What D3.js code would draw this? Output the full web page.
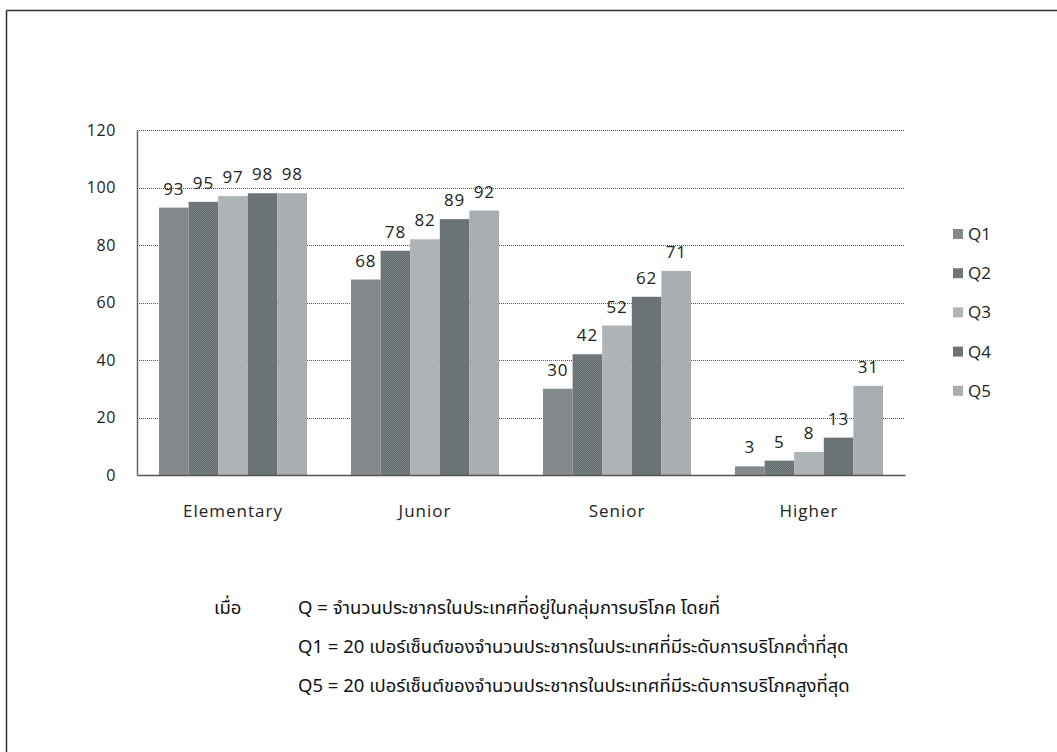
<!DOCTYPE html>
<html>
<head>
<meta charset="utf-8">
<script src="https://cdn.jsdelivr.net/npm/d3@7"></script>
<style>
  body { margin: 0; background: #fff; }
  svg { display: block; }
</style>
</head>
<body>
<svg id="chart" width="1057" height="752"></svg>
<script>
const categories = ["Elementary", "Junior", "Senior", "Higher"];
const seriesNames = ["Q1", "Q2", "Q3", "Q4", "Q5"];
const q1 = [93, 68, 30, 3];
const q2 = [95, 78, 42, 5];
const q3 = [97, 82, 52, 8];
const q4 = [98, 89, 62, 13];
const q5 = [98, 92, 71, 31];
const yTicks = [0, 20, 40, 60, 80, 100, 120];
const noteLines = [
  "Q = จำนวนประชากรในประเทศที่อยู่ในกลุ่มการบริโภค โดยที่",
  "Q1 = 20 เปอร์เซ็นต์ของจำนวนประชากรในประเทศที่มีระดับการบริโภคต่ำที่สุด",
  "Q5 = 20 เปอร์เซ็นต์ของจำนวนประชากรในประเทศที่มีระดับการบริโภคสูงที่สุด"
];
const noteLead = "เมื่อ";

const seriesValues = [q1, q2, q3, q4, q5];
const colorsA = ["#7a8185", "#656c70", "#a4abae", "#62696d", "#9ea5a8"];
const colorsB = ["#8b9195", "#7a8185", "#b8bec0", "#767d80", "#b0b6b9"];

const svg = d3.select("#chart");
const defs = svg.append("defs");
seriesNames.forEach((s, i) => {
  const p = defs.append("pattern").attr("id", "pat" + i)
    .attr("width", 2).attr("height", 2).attr("patternUnits", "userSpaceOnUse");
  p.append("rect").attr("width", 2).attr("height", 2).attr("fill", colorsB[i]);
  p.append("rect").attr("width", 1).attr("height", 1).attr("fill", colorsA[i]);
  p.append("rect").attr("x", 1).attr("y", 1).attr("width", 1).attr("height", 1).attr("fill", colorsA[i]);
});

// frame
svg.append("line").attr("x1", 6.5).attr("x2", 1057).attr("y1", 10.5).attr("y2", 10.5)
  .attr("stroke", "#2a3236").attr("stroke-width", 1.5);
svg.append("line").attr("x1", 6.5).attr("x2", 6.5).attr("y1", 10.5).attr("y2", 752)
  .attr("stroke", "#2a3236").attr("stroke-width", 1.5);

const plot = { left: 137, right: 905, top: 130, bottom: 475 };
const x0 = d3.scaleBand().domain(categories).range([plot.left, plot.right]).paddingInner(0.229).paddingOuter(0.1145);
const x1 = d3.scaleBand().domain(seriesNames).range([0, x0.bandwidth()]).padding(0);
const y = d3.scaleLinear().domain([0, 120]).range([plot.bottom, plot.top]);

const font = "'Open Sans', 'Noto Sans', sans-serif";

// gridlines
svg.append("g").selectAll("line").data(yTicks.filter(d => d > 0)).join("line")
  .attr("x1", plot.left).attr("x2", plot.right)
  .attr("y1", d => Math.round(y(d)) + 0.5).attr("y2", d => Math.round(y(d)) + 0.5)
  .attr("stroke", "#555").attr("stroke-width", 1).attr("stroke-dasharray", "1,1");

// y axis
const yAxis = d3.axisLeft(y).tickValues(yTicks).tickSize(0).tickPadding(21);
const gy = svg.append("g").attr("transform", `translate(${plot.left},0)`).call(yAxis);
gy.select(".domain").attr("stroke", "#666").attr("stroke-width", 1.5);
gy.selectAll("text").attr("font-family", font).attr("font-size", 16).attr("letter-spacing", 0.6).attr("fill", "#222");

// bars
const groups = svg.append("g").selectAll("g").data(categories).join("g")
  .attr("transform", d => `translate(${x0(d)},0)`);
const rowsFor = (c, ci) => seriesNames.map((s, si) => ({ s, si, v: seriesValues[si][ci] }));
groups.selectAll("rect").data(rowsFor)
  .join("rect")
  .attr("x", d => x1(d.s)).attr("width", x1.bandwidth())
  .attr("y", d => y(d.v)).attr("height", d => y(0) - y(d.v))
  .attr("fill", d => `url(#pat${d.si})`);
groups.selectAll("text").data(rowsFor)
  .join("text")
  .attr("x", d => x1(d.s) + x1.bandwidth() / 2).attr("y", d => y(d.v) - 13)
  .attr("text-anchor", "middle").attr("font-family", font).attr("font-size", 17).attr("letter-spacing", 0.8).attr("fill", "#222")
  .text(d => d.v);

// x axis
const xAxis = d3.axisBottom(x0).tickSize(0).tickPadding(30);
const gx = svg.append("g").attr("transform", `translate(0,${plot.bottom})`).call(xAxis);
gx.select(".domain").attr("stroke", "#555").attr("stroke-width", 1.5);
gx.selectAll("text").attr("font-family", font).attr("font-size", 17).attr("letter-spacing", 1).attr("fill", "#222");

// legend
const leg = svg.append("g").attr("transform", "translate(953,229)");
const li = leg.selectAll("g").data(seriesNames).join("g").attr("transform", (d, i) => `translate(0,${i * 39.2})`);
li.append("rect").attr("width", 10).attr("height", 10).attr("fill", (d, i) => `url(#pat${i})`);
li.append("text").attr("x", 15).attr("y", 11).attr("font-family", font).attr("font-size", 17).attr("fill", "#222").text(d => d);

// notes
const thai = "'Noto Sans Thai', 'Noto Sans', 'DejaVu Sans', sans-serif";
svg.append("text").attr("x", 214).attr("y", 614).attr("font-family", thai).attr("font-size", 18.5).attr("fill", "#111").text(noteLead);
svg.append("g").selectAll("text").data(noteLines).join("text")
  .attr("x", 298).attr("y", (d, i) => 614 + i * 39)
  .attr("font-family", thai).attr("font-size", 18.5).attr("fill", "#111")
  .text(d => d);
</script>
</body>
</html>
